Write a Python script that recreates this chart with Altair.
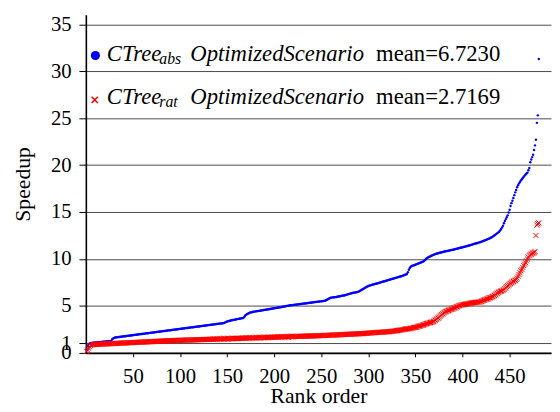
import altair as alt
import pandas as pd

# ---------------- data ----------------
blue_speedup = [
    0.40, 0.70, 0.90, 0.98, 1.02, 1.05, 1.07, 1.08, 1.09, 1.10,
    1.11, 1.12, 1.13, 1.14, 1.15, 1.16, 1.17, 1.18, 1.19, 1.20,
    1.21, 1.22, 1.23, 1.24, 1.25, 1.26, 1.28, 1.45, 1.55, 1.60,
    1.64, 1.65, 1.66, 1.68, 1.69, 1.70, 1.72, 1.73, 1.74, 1.76,
    1.77, 1.78, 1.80, 1.81, 1.82, 1.84, 1.85, 1.86, 1.88, 1.89,
    1.90, 1.92, 1.93, 1.94, 1.96, 1.97, 1.98, 2.00, 2.01, 2.02,
    2.04, 2.05, 2.06, 2.08, 2.09, 2.10, 2.12, 2.13, 2.14, 2.16,
    2.17, 2.18, 2.20, 2.21, 2.22, 2.24, 2.25, 2.26, 2.28, 2.29,
    2.30, 2.32, 2.33, 2.34, 2.36, 2.37, 2.38, 2.40, 2.41, 2.42,
    2.44, 2.45, 2.46, 2.48, 2.49, 2.50, 2.52, 2.53, 2.54, 2.56,
    2.57, 2.58, 2.60, 2.61, 2.62, 2.64, 2.65, 2.66, 2.68, 2.69,
    2.70, 2.72, 2.73, 2.74, 2.76, 2.77, 2.78, 2.80, 2.81, 2.82,
    2.84, 2.85, 2.86, 2.88, 2.89, 2.90, 2.92, 2.93, 2.94, 2.96,
    2.97, 2.98, 3.00, 3.01, 3.02, 3.04, 3.05, 3.06, 3.08, 3.09,
    3.10, 3.12, 3.13, 3.14, 3.16, 3.17, 3.20, 3.25, 3.30, 3.35,
    3.38, 3.40, 3.42, 3.45, 3.47, 3.50, 3.52, 3.54, 3.56, 3.58,
    3.60, 3.62, 3.64, 3.66, 3.68, 3.70, 3.72, 3.80, 3.95, 4.05,
    4.12, 4.18, 4.23, 4.27, 4.30, 4.33, 4.36, 4.38, 4.40, 4.42,
    4.43, 4.45, 4.47, 4.48, 4.50, 4.52, 4.53, 4.55, 4.57, 4.58,
    4.60, 4.62, 4.63, 4.65, 4.67, 4.68, 4.70, 4.72, 4.73, 4.75,
    4.77, 4.78, 4.80, 4.82, 4.83, 4.85, 4.87, 4.89, 4.91, 4.93,
    4.95, 4.97, 4.99, 5.01, 5.03, 5.05, 5.07, 5.08, 5.09, 5.10,
    5.11, 5.13, 5.14, 5.15, 5.17, 5.18, 5.19, 5.21, 5.22, 5.23,
    5.25, 5.26, 5.27, 5.29, 5.30, 5.31, 5.33, 5.34, 5.35, 5.37,
    5.38, 5.39, 5.41, 5.42, 5.43, 5.45, 5.46, 5.47, 5.49, 5.50,
    5.51, 5.53, 5.54, 5.56, 5.60, 5.66, 5.72, 5.78, 5.83, 5.87,
    5.89, 5.91, 5.92, 5.93, 5.94, 5.96, 5.98, 6.00, 6.02, 6.04,
    6.06, 6.08, 6.10, 6.12, 6.14, 6.17, 6.20, 6.23, 6.26, 6.29,
    6.32, 6.35, 6.38, 6.40, 6.42, 6.44, 6.46, 6.48, 6.50, 6.55,
    6.60, 6.66, 6.72, 6.78, 6.84, 6.90, 6.96, 7.02, 7.08, 7.12,
    7.16, 7.19, 7.22, 7.25, 7.28, 7.30, 7.33, 7.36, 7.39, 7.42,
    7.45, 7.48, 7.51, 7.54, 7.57, 7.60, 7.63, 7.66, 7.69, 7.72,
    7.75, 7.78, 7.81, 7.84, 7.87, 7.90, 7.93, 7.96, 7.99, 8.02,
    8.05, 8.08, 8.11, 8.14, 8.17, 8.20, 8.24, 8.28, 8.32, 8.36,
    8.40, 8.60, 8.85, 9.05, 9.18, 9.25, 9.28, 9.32, 9.36, 9.40,
    9.44, 9.48, 9.52, 9.56, 9.60, 9.64, 9.68, 9.72, 9.78, 9.88,
    9.98, 10.08, 10.14, 10.20, 10.25, 10.30, 10.35, 10.40, 10.44, 10.48,
    10.52, 10.56, 10.59, 10.62, 10.64, 10.67, 10.70, 10.72, 10.75, 10.77,
    10.80, 10.82, 10.84, 10.86, 10.88, 10.90, 10.92, 10.95, 10.97, 11.00,
    11.02, 11.05, 11.07, 11.10, 11.12, 11.15, 11.17, 11.20, 11.22, 11.25,
    11.27, 11.30, 11.32, 11.35, 11.38, 11.41, 11.44, 11.47, 11.50, 11.53,
    11.56, 11.59, 11.62, 11.65, 11.68, 11.71, 11.74, 11.77, 11.80, 11.84,
    11.88, 11.92, 11.96, 12.00, 12.04, 12.08, 12.12, 12.16, 12.20, 12.26,
    12.32, 12.38, 12.45, 12.52, 12.60, 12.68, 12.76, 12.84, 12.92, 13.05,
    13.20, 13.35, 13.55, 13.80, 14.05, 14.25, 14.45, 14.65, 14.95, 15.25,
    15.65, 15.95, 16.20, 16.50, 16.80, 17.10, 17.35, 17.65, 17.85, 18.05,
    18.20, 18.35, 18.50, 18.62, 18.75, 18.88, 19.00, 19.10, 19.20, 19.45,
    19.70, 20.30, 20.60, 20.85, 21.10, 21.60, 22.10, 22.70, 24.50, 25.30, 31.30,
]

red_speedup = [
    0.15, 0.30, 0.50, 0.65, 0.78, 0.85, 0.88, 0.89, 0.90, 0.90,
    0.91, 0.91, 0.92, 0.92, 0.93, 0.93, 0.94, 0.94, 0.95, 0.95,
    0.96, 0.96, 0.97, 0.97, 0.98, 0.98, 0.99, 0.99, 1.00, 1.00,
    1.01, 1.01, 1.02, 1.02, 1.03, 1.03, 1.04, 1.04, 1.05, 1.05,
    1.06, 1.06, 1.07, 1.07, 1.08, 1.08, 1.09, 1.09, 1.10, 1.10,
    1.11, 1.11, 1.12, 1.12, 1.13, 1.13, 1.14, 1.14, 1.15, 1.15,
    1.16, 1.16, 1.17, 1.17, 1.18, 1.18, 1.19, 1.19, 1.20, 1.20,
    1.21, 1.21, 1.22, 1.22, 1.23, 1.23, 1.24, 1.24, 1.25, 1.25,
    1.26, 1.26, 1.27, 1.27, 1.28, 1.28, 1.29, 1.29, 1.30, 1.30,
    1.31, 1.31, 1.32, 1.32, 1.32, 1.33, 1.33, 1.33, 1.34, 1.34,
    1.34, 1.35, 1.35, 1.35, 1.36, 1.36, 1.36, 1.37, 1.37, 1.37,
    1.38, 1.38, 1.38, 1.39, 1.39, 1.39, 1.40, 1.40, 1.40, 1.41,
    1.41, 1.41, 1.42, 1.42, 1.42, 1.43, 1.43, 1.43, 1.44, 1.44,
    1.44, 1.45, 1.45, 1.45, 1.46, 1.46, 1.46, 1.47, 1.47, 1.47,
    1.48, 1.48, 1.48, 1.49, 1.49, 1.49, 1.50, 1.50, 1.50, 1.51,
    1.51, 1.51, 1.52, 1.52, 1.52, 1.53, 1.53, 1.53, 1.54, 1.54,
    1.54, 1.55, 1.55, 1.55, 1.56, 1.56, 1.56, 1.57, 1.57, 1.57,
    1.58, 1.58, 1.58, 1.59, 1.59, 1.59, 1.60, 1.60, 1.60, 1.61,
    1.61, 1.61, 1.62, 1.62, 1.62, 1.63, 1.63, 1.63, 1.64, 1.64,
    1.64, 1.65, 1.65, 1.65, 1.66, 1.66, 1.66, 1.67, 1.67, 1.67,
    1.68, 1.68, 1.68, 1.69, 1.69, 1.69, 1.70, 1.70, 1.70, 1.71,
    1.71, 1.71, 1.72, 1.72, 1.72, 1.73, 1.73, 1.73, 1.74, 1.74,
    1.74, 1.75, 1.75, 1.75, 1.76, 1.76, 1.76, 1.77, 1.77, 1.77,
    1.78, 1.78, 1.78, 1.79, 1.79, 1.79, 1.80, 1.80, 1.80, 1.81,
    1.81, 1.81, 1.82, 1.82, 1.82, 1.83, 1.83, 1.83, 1.84, 1.84,
    1.84, 1.85, 1.85, 1.86, 1.86, 1.87, 1.87, 1.88, 1.88, 1.89,
    1.89, 1.90, 1.90, 1.91, 1.91, 1.92, 1.92, 1.93, 1.93, 1.94,
    1.94, 1.95, 1.95, 1.96, 1.96, 1.97, 1.97, 1.98, 1.98, 1.99,
    1.99, 2.00, 2.00, 2.01, 2.01, 2.02, 2.02, 2.03, 2.03, 2.04,
    2.04, 2.05, 2.05, 2.06, 2.06, 2.07, 2.08, 2.09, 2.10, 2.11,
    2.12, 2.13, 2.13, 2.14, 2.15, 2.15, 2.16, 2.17, 2.17, 2.18,
    2.19, 2.19, 2.20, 2.21, 2.21, 2.22, 2.23, 2.23, 2.24, 2.25,
    2.25, 2.26, 2.27, 2.28, 2.29, 2.30, 2.32, 2.33, 2.35, 2.37,
    2.38, 2.40, 2.42, 2.43, 2.45, 2.47, 2.48, 2.50, 2.52, 2.54,
    2.55, 2.57, 2.58, 2.60, 2.61, 2.63, 2.65, 2.67, 2.69, 2.72,
    2.75, 2.78, 2.81, 2.84, 2.87, 2.90, 2.93, 2.96, 3.00, 3.04,
    3.08, 3.12, 3.15, 3.18, 3.21, 3.24, 3.27, 3.30, 3.34, 3.40,
    3.48, 3.56, 3.64, 3.72, 3.80, 3.90, 4.00, 4.08, 4.16, 4.25,
    4.32, 4.38, 4.43, 4.48, 4.52, 4.56, 4.60, 4.64, 4.68, 4.72,
    4.76, 4.80, 4.85, 4.90, 4.95, 5.00, 5.05, 5.08, 5.10, 5.12,
    5.14, 5.16, 5.18, 5.20, 5.22, 5.24, 5.26, 5.28, 5.30, 5.32,
    5.34, 5.36, 5.37, 5.38, 5.39, 5.40, 5.41, 5.42, 5.44, 5.48,
    5.53, 5.58, 5.62, 5.66, 5.70, 5.74, 5.78, 5.82, 5.86, 5.90,
    5.94, 5.98, 6.04, 6.12, 6.20, 6.28, 6.36, 6.44, 6.50, 6.55,
    6.58, 6.62, 6.68, 6.76, 6.86, 6.96, 7.06, 7.15, 7.24, 7.32,
    7.40, 7.48, 7.55, 7.62, 7.68, 7.74, 7.82, 7.95, 8.15, 8.35,
    8.55, 8.75, 8.90, 9.10, 9.30, 9.45, 9.60, 9.80, 10.00, 10.20,
    10.35, 10.45, 10.52, 10.58, 10.64, 10.70, 10.80, 12.50, 13.60, 13.75, 13.85,
]

series_names = ["CTree", "CTree"]
series_subscripts = ["abs", "rat"]
series_suffix = ["OptimizedScenario", "OptimizedScenario"]
series_means = ["mean=6.7230", "mean=2.7169"]

x_ticks = [50, 100, 150, 200, 250, 300, 350, 400, 450]
y_ticks = [0, 1, 5, 10, 15, 20, 25, 30, 35]

FONT = "'Liberation Serif', 'Times New Roman', 'DejaVu Serif', serif"
BLUE = "#0000ff"
RED = "#ff0000"

blue_df = pd.DataFrame({"rank": list(range(1, len(blue_speedup) + 1)), "speedup": blue_speedup})
red_df = pd.DataFrame({"rank": list(range(1, len(red_speedup) + 1)), "speedup": red_speedup})

x_enc = alt.X(
    "rank:Q",
    title="Rank order",
    scale=alt.Scale(domain=[0, 494], nice=False, zero=False),
    axis=alt.Axis(
        values=x_ticks, grid=False, tickSize=4, labelPadding=9,
        labelFlush=False, labelOverlap=False,
        titleY=50, titleBaseline="alphabetic",
    ),
)
y_enc = alt.Y(
    "speedup:Q",
    title="Speedup",
    scale=alt.Scale(domain=[0, 36], nice=False),
    axis=alt.Axis(
        values=y_ticks, grid=True, tickSize=7, labelPadding=8,
        labelFlush=False, labelOverlap=False,
        titleX=-64, titleBaseline="middle",
    ),
)

blue_pts = alt.Chart(blue_df).mark_circle(size=6, color=BLUE, opacity=1).encode(x=x_enc, y=y_enc)
red_pts = alt.Chart(red_df).mark_point(
    shape="M-1,-1L1,1M-1,1L1,-1", filled=False, size=27, strokeWidth=1, color=RED, opacity=1
).encode(x=x_enc, y=y_enc)

one = pd.DataFrame({"a": [0]})

def txt(s, x, y, size, italic=True, color="black"):
    return alt.Chart(one).mark_text(
        text=s, font=FONT, fontSize=size, fontStyle="italic" if italic else "normal",
        align="left", baseline="alphabetic", color=color,
    ).encode(x=alt.value(x), y=alt.value(y))

legend_layers = []
rows_y = [47.3, 90.7]
for i in range(2):
    yb = rows_y[i]
    legend_layers.append(txt(series_names[i], 21.3, yb, 23))
    legend_layers.append(txt(series_subscripts[i], 74.5, yb + 2.5, 16))
    legend_layers.append(txt(series_suffix[i], 106.0, yb, 23))
    legend_layers.append(txt(series_means[i], 294.5, yb, 23, italic=False))

leg_blue = alt.Chart(one).mark_circle(size=85, color=BLUE, opacity=1).encode(
    x=alt.value(9.7), y=alt.value(41.3))
leg_red = alt.Chart(one).mark_point(
    shape="M-1,-1L1,1M-1,1L1,-1", filled=False, size=40, strokeWidth=1.6, color=RED, opacity=1
).encode(x=alt.value(9.0), y=alt.value(86.3))

chart = alt.layer(blue_pts, red_pts, leg_blue, leg_red, *legend_layers).properties(
    width=472, height=343,
    autosize=alt.AutoSizeParams(type="none"),
    padding={"left": 79, "top": 4, "right": 1, "bottom": 57},
).configure_view(stroke=None).configure_axis(
    labelFont=FONT, labelFontSize=21, labelColor="black",
    titleFont=FONT, titleFontSize=22, titleFontWeight="normal", titleColor="black",
    domainColor="black", domainWidth=1.6, tickColor="black", tickWidth=1,
    gridColor="#4a4a4a", gridWidth=1, gridOpacity=1,
)

chart.save("out.html", embed_options={"renderer": "svg", "actions": False})
